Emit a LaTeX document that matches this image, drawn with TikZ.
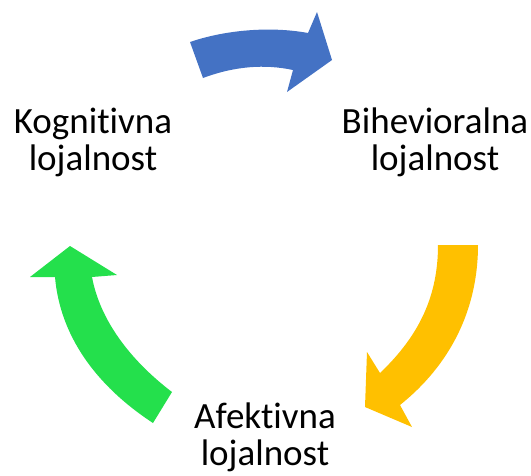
\documentclass[tikz,border=0pt]{standalone}
\usepackage{fontspec}
\setmainfont{Carlito}[Ligatures=NoCommon]
\definecolor{arrowblue}{RGB}{68,114,196}
\definecolor{arrowyellow}{RGB}{255,192,0}
\definecolor{arrowgreen}{RGB}{36,224,76}

\begin{document}
\begin{tikzpicture}[x=1pt, y=-1pt,
		loyalty/.style={align=center, inner sep=0pt, font=\fontsize{37}{37}\selectfont}]
				
				% Fix the page size.
				\useasboundingbox (0,0) rectangle (531,475);
				
				% Draw the three kinds of loyalty.
				\node[loyalty] (kog) at (93,142) {Kognitivna\\lojalnost};
				\node[loyalty] (bih) at (435,142) {Bihevioralna\\lojalnost};
				\node[loyalty] (afe) at (265,437) {Afektivna\\lojalnost};
				
				% Draw the blue arrow.
				\fill[arrowblue] (190,42) .. controls (225,30) and (270,26) .. (308,33)
					-- (317,12) -- (332,60) -- (287,92) -- (293,70)
					.. controls (265,64) and (235,66) .. (203,78) -- cycle;
				
				% Draw the yellow arrow.
				\fill[arrowyellow] (438,245) -- (478,245)
					.. controls (478,310) and (450,365) .. (400,405)
					-- (412,427) -- (365,407) -- (367,352) -- (380,373)
					.. controls (420,335) and (438,295) .. (438,245) -- cycle;
				
				% Draw the green arrow.
				\fill[arrowgreen] (153,423) -- (172,392)
					.. controls (130,360) and (100,320) .. (92,277)
					-- (117,275) -- (70,246) -- (30,277) -- (55,277)
					.. controls (60,335) and (95,385) .. (153,423) -- cycle;
				
			\end{tikzpicture}
\end{document}
